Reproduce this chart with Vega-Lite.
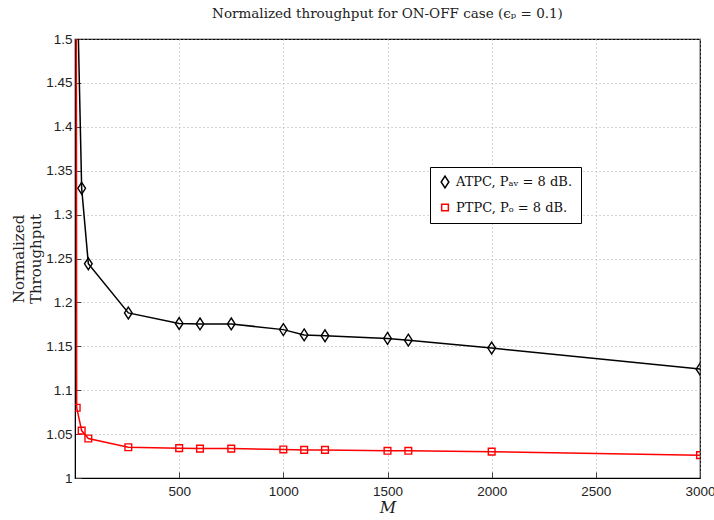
{
  "$schema": "https://vega.github.io/schema/vega-lite/v6.json",
  "width": 625,
  "height": 439,
  "autosize": "none",
  "padding": {"left": 75, "top": 39, "right": 14, "bottom": 42},
  "background": "white",
  "config": {
    "view": {"stroke": "black", "strokeWidth": 1.2},
    "axis": {
      "labelFont": "Liberation Sans",
      "labelFontSize": 13.5,
      "labelColor": "#222",
      "labelFlush": false,
      "labelOverlap": false,
      "domainColor": "black",
      "tickColor": "#444",
      "tickSize": -6,
      "grid": true,
      "gridColor": "#aaa",
      "gridDash": [1, 3],
      "gridWidth": 1,
      "titleFont": "DejaVu Serif",
      "titleFontWeight": "normal",
      "titleColor": "#222"
    }
  },
  "title": {
    "text": "Normalized throughput for ON-OFF case (ϵₚ = 0.1)",
    "font": "DejaVu Serif",
    "fontSize": 13.5,
    "fontWeight": "normal",
    "color": "#222",
    "offset": 12
  },
  "data": {
    "values": [
      {"series": "ATPC", "M": 8, "value": 1.59},
      {"series": "ATPC", "M": 32, "value": 1.33},
      {"series": "ATPC", "M": 64, "value": 1.244},
      {"series": "ATPC", "M": 256, "value": 1.188},
      {"series": "ATPC", "M": 500, "value": 1.176},
      {"series": "ATPC", "M": 600, "value": 1.1755},
      {"series": "ATPC", "M": 750, "value": 1.1755},
      {"series": "ATPC", "M": 1000, "value": 1.169},
      {"series": "ATPC", "M": 1100, "value": 1.163},
      {"series": "ATPC", "M": 1200, "value": 1.162},
      {"series": "ATPC", "M": 1500, "value": 1.159},
      {"series": "ATPC", "M": 1600, "value": 1.157},
      {"series": "ATPC", "M": 2000, "value": 1.148},
      {"series": "ATPC", "M": 3000, "value": 1.124},
      {"series": "PTPC", "M": 1, "value": 3.0},
      {"series": "PTPC", "M": 8, "value": 1.08},
      {"series": "PTPC", "M": 32, "value": 1.054},
      {"series": "PTPC", "M": 64, "value": 1.045},
      {"series": "PTPC", "M": 256, "value": 1.035},
      {"series": "PTPC", "M": 500, "value": 1.034},
      {"series": "PTPC", "M": 600, "value": 1.0335},
      {"series": "PTPC", "M": 750, "value": 1.0335},
      {"series": "PTPC", "M": 1000, "value": 1.0325},
      {"series": "PTPC", "M": 1100, "value": 1.032},
      {"series": "PTPC", "M": 1200, "value": 1.032},
      {"series": "PTPC", "M": 1500, "value": 1.031},
      {"series": "PTPC", "M": 1600, "value": 1.031},
      {"series": "PTPC", "M": 2000, "value": 1.03},
      {"series": "PTPC", "M": 3000, "value": 1.026}
    ]
  },
  "encoding": {
    "x": {
      "field": "M",
      "type": "quantitative",
      "scale": {"domain": [0, 3000], "nice": false, "zero": false},
      "axis": {
        "values": [500, 1000, 1500, 2000, 2500, 3000],
        "format": "d",
        "title": "M",
        "titleFontStyle": "italic",
        "titleFontSize": 16,
        "titlePadding": 2,
        "labelPadding": 12
      }
    },
    "y": {
      "field": "value",
      "type": "quantitative",
      "scale": {"domain": [1, 1.5], "nice": false, "zero": false},
      "axis": {
        "values": [1, 1.05, 1.1, 1.15, 1.2, 1.25, 1.3, 1.35, 1.4, 1.45, 1.5],
        "labelExpr": "datum.value == 1 ? '1' : format(datum.value, '.3~f')",
        "title": ["Normalized", "Throughput"],
        "titleFontSize": 15,
        "titlePadding": 2,
        "labelPadding": 9
      }
    },
    "color": {
      "field": "series",
      "type": "nominal",
      "scale": {"domain": ["ATPC", "PTPC"], "range": ["#000000", "#ff0000"]},
      "legend": {
        "title": null,
        "orient": "none",
        "legendX": 355,
        "legendY": 128,
        "labelExpr": "datum.label == 'ATPC' ? 'ATPC, Pₐᵥ = 8 dB.' : 'PTPC, Pₒ = 8 dB.'",
        "labelFont": "DejaVu Serif",
        "labelFontSize": 13,
        "labelColor": "#111",
        "strokeColor": "black",
        "fillColor": "white",
        "padding": 8,
        "rowPadding": 10,
        "symbolStrokeWidth": 1.5,
        "symbolSize": 80,
        "encode": {
          "symbols": {
            "update": {
              "fill": {"value": "white"},
              "fillOpacity": {"value": 0},
              "stroke": {"scale": "color", "field": "value"},
              "strokeWidth": {"value": 1.5}
            }
          }
        }
      }
    }
  },
  "layer": [
    {"mark": {"type": "line", "strokeWidth": 1.5, "clip": true}},
    {
      "mark": {"type": "point", "filled": false, "fill": "transparent", "strokeWidth": 1.4, "clip": true, "opacity": 1},
      "encoding": {
        "shape": {
          "field": "series",
          "type": "nominal",
          "scale": {"domain": ["ATPC", "PTPC"], "range": ["M0,-1L0.65,0L0,1L-0.65,0Z", "square"]},
          "legend": null
        },
        "size": {
          "field": "series",
          "type": "nominal",
          "scale": {"domain": ["ATPC", "PTPC"], "range": [140, 45]},
          "legend": null
        }
      }
    }
  ]
}
